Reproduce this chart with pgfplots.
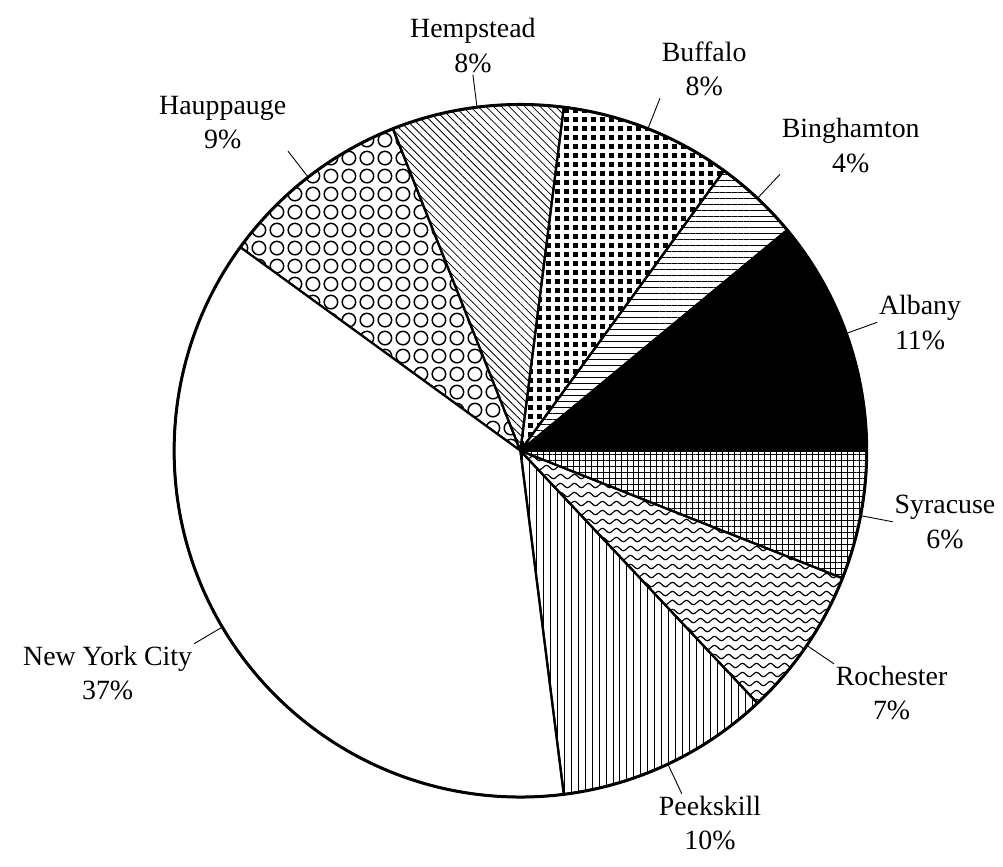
\documentclass[border=0pt]{standalone}
\usepackage{fontspec}
\setmainfont{Liberation Serif}
\usepackage{pgfplots}
\pgfplotsset{compat=1.18}
\usepackage{pgfplotstable}
\usetikzlibrary{patterns.meta}

% custom fills
\tikzdeclarepattern{name=bsquares, tile size={(9pt,9pt)},
  bottom left={(0pt,0pt)}, top right={(9pt,9pt)},
  code={\fill (0pt,0pt) rectangle (4.8pt,4.8pt);}}
\tikzdeclarepattern{name=rings, tile size={(18pt,18pt)},
  bottom left={(0pt,0pt)}, top right={(18pt,18pt)},
  code={\draw[line width=1.5pt] (9pt,9pt) circle[radius=6.8pt];}}
\tikzdeclarepattern{name=waves, tile size={(14pt,9pt)},
  bottom left={(0pt,0pt)}, top right={(14pt,9pt)},
  code={\draw[line width=1.2pt] (0pt,4.5pt) sin (3.5pt,6.7pt) cos (7pt,4.5pt)
        sin (10.5pt,2.3pt) cos (14pt,4.5pt);}}

\tikzset{
  pblack/.style={fill=black},
  pwhite/.style={fill=white},
  phl/.style={pattern={Lines[angle=0,distance=6pt,line width=0.8pt]}},
  pvl/.style={pattern={Lines[angle=90,distance=7pt,line width=0.9pt]}},
  pdiag/.style={pattern={Lines[angle=-45,distance=5.5pt,line width=0.8pt]}},
  pgrid/.style={pattern={Hatch[angle=0,distance=6pt,line width=0.7pt]}},
  psq/.style={pattern=bsquares},
  pcirc/.style={pattern=rings},
  pwave/.style={pattern=waves},
}

\pgfplotstableread[col sep=comma]{
name,pct,sty,anch
Albany,11,pblack,west
Binghamton,4,phl,south west
Buffalo,8,psq,south west
Hempstead,8,pdiag,south
Hauppauge,9,pcirc,south east
New York City,37,pwhite,north east
Peekskill,10,pvl,134
Rochester,7,pwave,north west
Syracuse,6,pgrid,west
}\piedata

\begin{document}
\def\acc{0}
\pgfplotsforeachungrouped \i in {0,...,8}{%
  \pgfplotstablegetelem{\i}{pct}\of\piedata
  \let\pp\pgfplotsretval
  \pgfmathsetmacro\sA{\acc*3.6}%
  \pgfmathsetmacro\acc{\acc+\pp}%
  \pgfmathsetmacro\sB{\acc*3.6}%
  \pgfmathsetmacro\sM{(\sA+\sB)/2}%
  \expandafter\xdef\csname sa\i\endcsname{\sA}%
  \expandafter\xdef\csname sb\i\endcsname{\sB}%
  \expandafter\xdef\csname sm\i\endcsname{\sM}%
  \expandafter\xdef\csname pc\i\endcsname{\pp}%
  \pgfplotstablegetelem{\i}{name}\of\piedata
  \expandafter\xdef\csname nm\i\endcsname{\pgfplotsretval}%
  \pgfplotstablegetelem{\i}{anch}\of\piedata
  \expandafter\xdef\csname an\i\endcsname{\pgfplotsretval}%
  \pgfplotstablegetelem{\i}{sty}\of\piedata
  \edef\tmp{\noexpand\tikzset{slice\i/.style={\pgfplotsretval}}}\tmp
}
\begin{tikzpicture}
\begin{axis}[
  x=1pt, y=1pt,
  xmin=0, xmax=1003,
  ymin=0, ymax=871,
  hide axis, clip=false,
  anchor=south west, at={(0pt,0pt)},
  scale only axis,
]
\pgfplotsinvokeforeach{0,...,8}{
  \filldraw[slice#1, draw=black, line width=2.2pt, line join=round]
    (axis cs:518,418) -- ++({\csname sa#1\endcsname}:348pt)
    arc[start angle={\csname sa#1\endcsname}, end angle={\csname sb#1\endcsname}, radius=348pt]
    -- cycle;
}
\draw[line width=3pt] (axis cs:518,418) circle[radius=348pt];
\pgfplotsinvokeforeach{0,...,8}{
  \draw[line width=0.9pt] (axis cs:518,418) ++({\csname sm#1\endcsname}:349pt)
    -- ++({\csname sm#1\endcsname}:32pt)
    node[anchor=\csname an#1\endcsname, align=center, inner sep=1.5pt,
         font=\fontsize{28}{35}\selectfont]
    {\csname nm#1\endcsname\\\csname pc#1\endcsname\%};
}
\end{axis}
\pgfresetboundingbox
\useasboundingbox (0,0) rectangle (1003pt,871pt);
\end{tikzpicture}
\end{document}
